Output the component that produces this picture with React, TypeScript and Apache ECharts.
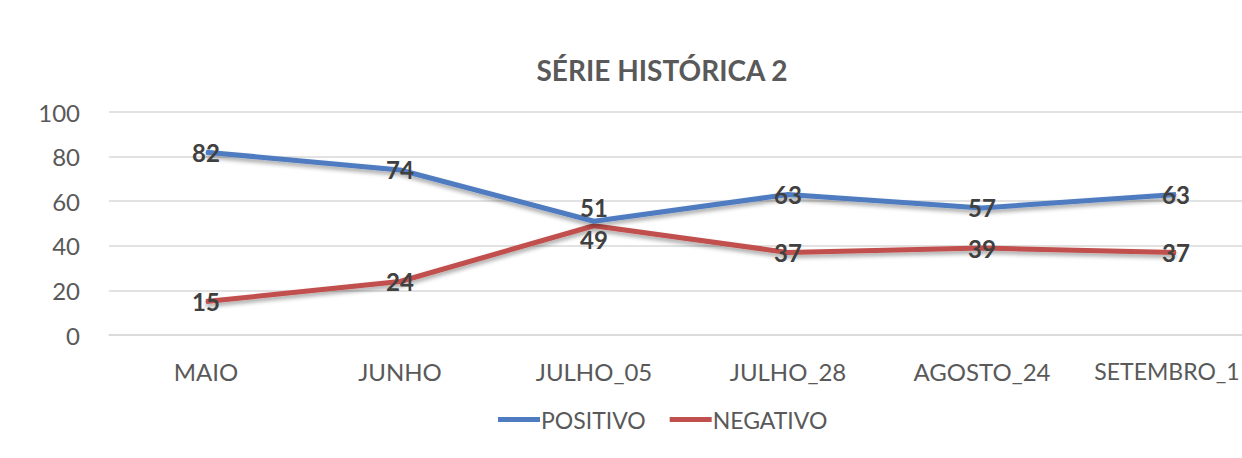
import React, { useEffect, useRef } from "react";
import * as echarts from "echarts";

const categories = ["MAIO", "JUNHO", "JULHO_05", "JULHO_28", "AGOSTO_24", "SETEMBRO_1"];
const positivo = [82, 74, 51, 63, 57, 63];
const negativo = [15, 24, 49, 37, 39, 37];
const yTicks = { min: 0, max: 100, interval: 20 };

const FONT = "Lato, 'Liberation Sans', sans-serif";
const GRAY = "#595959";

export default function App() {
  const ref = useRef<HTMLDivElement>(null);
  useEffect(() => {
    if (!ref.current) return;
    const chart = echarts.init(ref.current, null, { renderer: "svg" });
    const mkSeries = (name: string, data: number[], color: string, crossAbove: boolean) => ({
      name,
      type: "line",
      data: data.map((v, i) => ({
        value: v,
        label: i === 2 ? { position: crossAbove ? "top" : "bottom", distance: 1 } : undefined,
      })),
      symbol: "circle",
      symbolSize: 1,
      showSymbol: true,
      itemStyle: { color },
      lineStyle: {
        color,
        width: 5,
        shadowColor: "rgba(0,0,0,0.35)",
        shadowBlur: 4,
        shadowOffsetY: 3,
      },
      label: {
        show: true,
        position: "inside",
        fontFamily: FONT,
        fontWeight: "bold",
        fontSize: 24,
        color: "#404040",
      },
      z: crossAbove ? 3 : 2,
    });
    const lastIdx = categories.length - 1;
    chart.setOption({
      animation: false,
      backgroundColor: "#ffffff",
      title: {
        text: "SÉRIE HISTÓRICA 2",
        left: 657,
        textAlign: "center",
        top: 51,
        textStyle: { fontFamily: FONT, fontWeight: "bold", fontSize: 28, color: GRAY },
      },
      legend: {
        left: 493,
        top: 403,
        icon: "rect",
        itemWidth: 42,
        itemHeight: 5,
        itemGap: 24,
        textStyle: { fontFamily: FONT, fontSize: 23, color: GRAY, padding: [0, 0, 0, -4] },
        data: ["POSITIVO", "NEGATIVO"],
      },
      grid: { left: 109, top: 112, width: 1164, height: 223 },
      xAxis: {
        type: "category",
        data: categories,
        boundaryGap: true,
        axisLine: { show: true, lineStyle: { color: "#d9d9d9", width: 1.5 } },
        axisTick: { show: false },
        axisLabel: {
          interval: 0,
          fontFamily: FONT,
          fontSize: 24,
          color: GRAY,
          margin: 24,
          formatter: (v: string, i: number) => (i === lastIdx ? `{last|${v}}` : v),
          rich: {
            last: {
              fontFamily: FONT,
              fontSize: 23,
              color: GRAY,
              lineHeight: 24,
              padding: [0, 18, 0, 0],
            },
          },
        },
      },
      yAxis: {
        type: "value",
        min: yTicks.min,
        max: yTicks.max,
        interval: yTicks.interval,
        axisLine: { show: false },
        axisTick: { show: false },
        axisLabel: { fontFamily: FONT, fontSize: 24, color: GRAY, margin: 29 },
        splitLine: { lineStyle: { color: "#d9d9d9", width: 1.5 } },
      },
      series: [
        mkSeries("POSITIVO", positivo, "#4F7CC0", true),
        mkSeries("NEGATIVO", negativo, "#C0504D", false),
      ],
    });
    return () => chart.dispose();
  }, []);
  return (
    <div style={{ position: "absolute", left: 0, top: 0, width: 1242, height: 458, overflow: "hidden" }}>
      <div ref={ref} style={{ width: 1300, height: 458 }} />
    </div>
  );
}
